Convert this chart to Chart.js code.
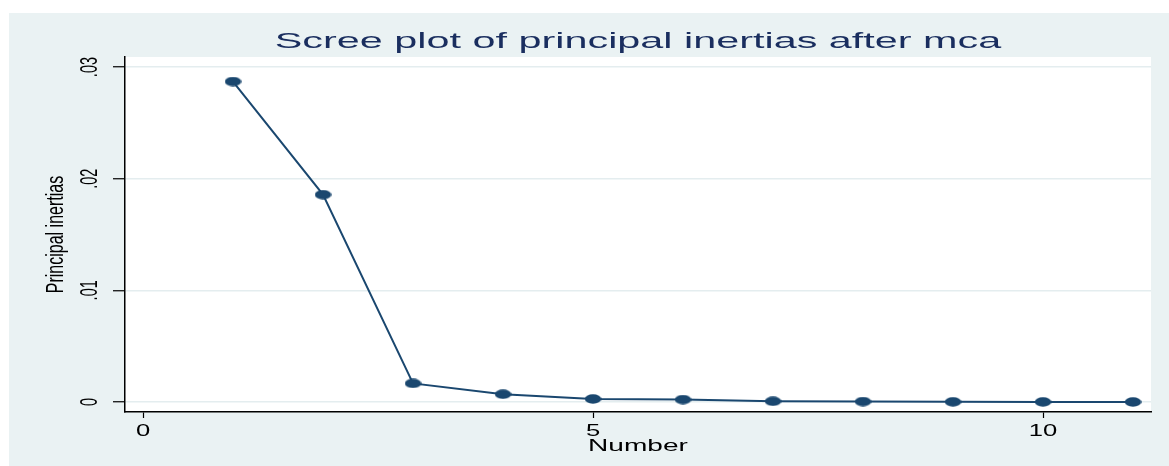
<!DOCTYPE html>
<html>
<head>
<meta charset="utf-8">
<script src="https://cdn.jsdelivr.net/npm/chart.js@4.4.1/dist/chart.umd.min.js"></script>
<style>
  html, body { margin: 0; padding: 0; background: #fff; }
  #wrap { width: 1169px; height: 466px; position: relative; }
</style>
</head>
<body>
<div id="wrap"><canvas id="myChart"></canvas></div>
<script>
var numbers = [1, 2, 3, 4, 5, 6, 7, 8, 9, 10, 11];
var inertias = [0.0287, 0.01857, 0.00166, 0.00069, 0.00027, 0.00021, 0.00006, 0.00003, 0.00001, 0.000005, 0];
var xTicks = [0, 5, 10];
var yTicks = [0, 0.01, 0.02, 0.03];
var yTickLabels = ["0", ".01", ".02", ".03"];

var titleText = "Scree plot of principal inertias after mca";
var xTitle = "Number";
var yTitle = "Principal inertias";

var navy = "#1A476F";
var bg = "#EAF2F3";

// stata-ish oval marker (the picture is stretched sideways)
var dot = document.createElement("canvas");
dot.width = 17;
dot.height = 10;
var dctx = dot.getContext("2d");
dctx.fillStyle = navy;
dctx.beginPath();
dctx.ellipse(8.5, 5, 8.3, 4.7, 0, 0, Math.PI * 2);
dctx.fill();

function txt(ctx, s, x, y, size, sx, color, rot) {
  ctx.save();
  ctx.translate(x, y);
  ctx.scale(sx, 1);
  if (rot) ctx.rotate(-Math.PI / 2);
  ctx.font = size + 'px "Liberation Sans", Arial, sans-serif';
  ctx.fillStyle = color;
  ctx.textAlign = "center";
  ctx.textBaseline = "alphabetic";
  ctx.fillText(s, 0, 0);
  ctx.restore();
}

var backdrop = {
  id: "backdrop",
  beforeDraw: function (chart) {
    var c = chart.ctx, a = chart.chartArea;
    c.save();
    c.fillStyle = "#fff";
    c.fillRect(0, 0, chart.width, chart.height);
    c.fillStyle = bg;
    c.fillRect(9, 13, chart.width - 9, chart.height - 13);
    c.fillStyle = "#fff";
    c.fillRect(a.left, a.top, a.right - a.left, a.bottom - a.top);
    c.restore();
  },
  afterDraw: function (chart) {
    var c = chart.ctx, a = chart.chartArea;
    var xs = chart.scales.x, ys = chart.scales.y;
    var mid = (a.left + a.right) / 2;
    txt(c, titleText, mid, 48, 22, 1.88, "#1A2E5F", false);
    xTicks.forEach(function (v) {
      txt(c, String(v), xs.getPixelForValue(v), 436, 16, 1.6, "#000", false);
    });
    txt(c, xTitle, mid, 451, 17, 1.65, "#000", false);
    yTicks.forEach(function (v, i) {
      txt(c, yTickLabels[i], 97, ys.getPixelForValue(v), 14.5, 1.7, "#000", true);
    });
    txt(c, yTitle, 63, (a.top + a.bottom) / 2, 16, 1.45, "#000", true);
  }
};

var ctx = document.getElementById("myChart").getContext("2d");

var myChart = new Chart(ctx, {
  type: "line",
  data: {
    datasets: [{
      data: numbers.map(function (n, i) { return { x: n, y: inertias[i] }; }),
      borderColor: navy,
      backgroundColor: navy,
      borderWidth: 2,
      pointStyle: dot,
      pointRadius: 5,
      tension: 0
    }]
  },
  plugins: [backdrop],
  options: {
    responsive: true,
    maintainAspectRatio: false,
    animation: false,
    layout: { padding: { top: 57, right: 18, left: 0, bottom: 0 } },
    scales: {
      x: {
        type: "linear",
        min: -0.2,
        max: 11.2,
        afterBuildTicks: function (s) { s.ticks = xTicks.map(function (v) { return { value: v }; }); },
        afterFit: function (s) { s.height = 54; },
        ticks: { display: false },
        grid: { drawOnChartArea: false, drawTicks: true, tickLength: 6, tickColor: "#000", tickWidth: 1.2 },
        border: { color: "#000", width: 1.5 }
      },
      y: {
        min: -0.0009,
        max: 0.0309,
        afterBuildTicks: function (s) { s.ticks = yTicks.map(function (v) { return { value: v }; }); },
        afterFit: function (s) { s.width = 125; },
        ticks: { display: false },
        grid: { color: "#E4EDEF", lineWidth: 1.5, drawTicks: true, tickLength: 12, tickColor: "#000", tickWidth: 1.2 },
        border: { color: "#000", width: 1.5 }
      }
    },
    plugins: {
      legend: { display: false },
      title: { display: false },
      tooltip: { enabled: false }
    }
  }
});
</script>
</body>
</html>
